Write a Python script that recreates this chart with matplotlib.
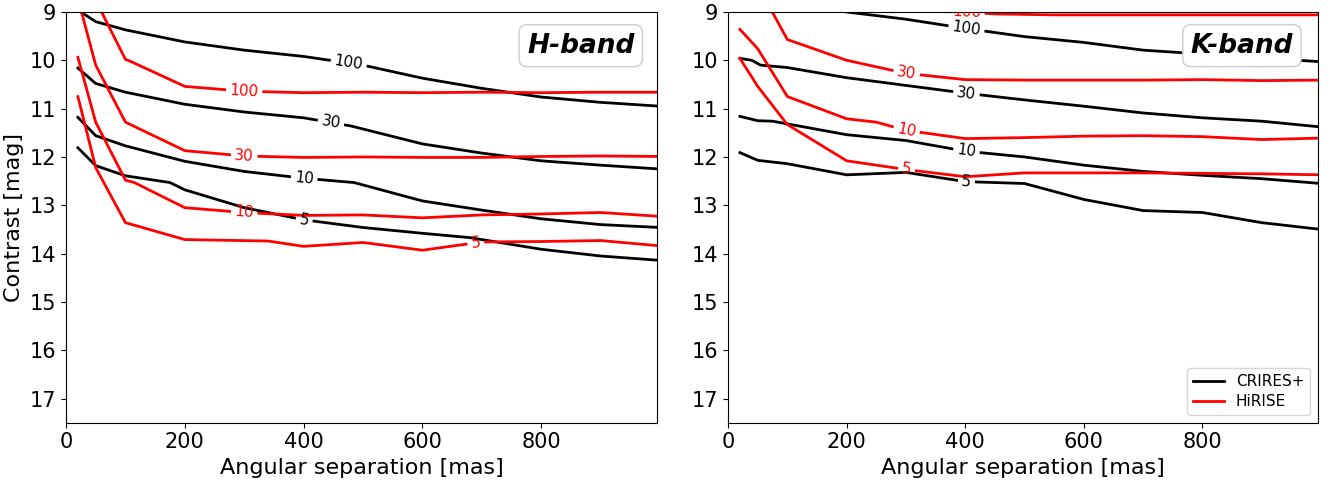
import numpy as np
import matplotlib.pyplot as plt

# contrast curves: {level: (separation [mas], contrast [mag])}
h_crires = {
    100: ([20, 50, 100, 200, 300, 400, 500, 600, 700, 800, 900, 1000],
          [8.96, 9.20, 9.37, 9.62, 9.79, 9.92, 10.10, 10.37, 10.58, 10.76, 10.87, 10.95]),
    30: ([20, 50, 100, 200, 300, 400, 480, 600, 700, 800, 900, 1000],
         [10.16, 10.48, 10.66, 10.91, 11.07, 11.19, 11.36, 11.73, 11.92, 12.08, 12.17, 12.25]),
    10: ([20, 50, 100, 200, 300, 400, 485, 600, 700, 800, 900, 1000],
         [11.18, 11.56, 11.77, 12.09, 12.30, 12.44, 12.53, 12.91, 13.10, 13.28, 13.40, 13.46]),
    5: ([20, 50, 100, 175, 200, 300, 400, 500, 600, 680, 800, 900, 1000],
        [11.81, 12.18, 12.39, 12.53, 12.68, 13.05, 13.30, 13.46, 13.58, 13.67, 13.91, 14.05, 14.14]),
}
h_hirise = {
    100: ([50, 100, 110, 200, 300, 400, 500, 600, 700, 800, 900, 1000],
          [8.76, 9.98, 10.03, 10.54, 10.64, 10.67, 10.66, 10.67, 10.66, 10.67, 10.66, 10.66]),
    30: ([20, 50, 100, 200, 300, 400, 500, 600, 700, 800, 900, 1000],
         [8.72, 10.10, 11.28, 11.87, 11.98, 12.01, 12.00, 12.01, 12.01, 11.99, 11.98, 11.99]),
    10: ([20, 50, 100, 115, 200, 300, 400, 500, 600, 700, 800, 900, 1000],
         [9.94, 11.28, 12.48, 12.53, 13.05, 13.15, 13.21, 13.20, 13.26, 13.20, 13.18, 13.15, 13.23]),
    5: ([20, 50, 100, 200, 340, 400, 500, 600, 700, 800, 900, 1000],
        [10.75, 12.22, 13.36, 13.71, 13.74, 13.85, 13.77, 13.93, 13.76, 13.75, 13.73, 13.84]),
}
k_crires = {
    100: ([100, 200, 300, 400, 500, 600, 700, 800, 900, 1000],
          [8.80, 9.00, 9.15, 9.34, 9.51, 9.63, 9.79, 9.87, 9.95, 10.03]),
    30: ([20, 40, 55, 100, 200, 300, 400, 500, 600, 700, 800, 900, 1000],
         [9.96, 10.00, 10.10, 10.15, 10.36, 10.52, 10.68, 10.82, 10.95, 11.09, 11.19, 11.26, 11.38]),
    10: ([20, 50, 75, 200, 300, 400, 500, 600, 700, 800, 900, 1000],
         [11.16, 11.25, 11.26, 11.54, 11.66, 11.88, 12.00, 12.17, 12.30, 12.38, 12.45, 12.55]),
    5: ([20, 50, 100, 200, 300, 400, 500, 600, 700, 800, 900, 1000],
        [11.91, 12.07, 12.14, 12.37, 12.32, 12.51, 12.55, 12.88, 13.11, 13.15, 13.36, 13.50]),
}
k_hirise = {
    100: ([300, 350, 400, 450, 550, 1000],
          [8.92, 8.99, 9.00, 9.04, 9.06, 9.06]),
    30: ([50, 75, 100, 200, 300, 400, 500, 600, 700, 800, 900, 1000],
         [8.45, 9.01, 9.57, 10.00, 10.27, 10.40, 10.41, 10.41, 10.41, 10.40, 10.42, 10.41]),
    10: ([20, 50, 100, 200, 250, 300, 400, 500, 600, 700, 800, 900, 1000],
         [9.36, 9.76, 10.75, 11.21, 11.28, 11.45, 11.62, 11.60, 11.57, 11.56, 11.58, 11.64, 11.61]),
    5: ([20, 50, 100, 200, 300, 400, 500, 600, 700, 800, 900, 1000],
        [9.96, 10.54, 11.33, 12.08, 12.26, 12.41, 12.33, 12.33, 12.33, 12.34, 12.35, 12.37]),
}

# where the inline level labels sit (separation in mas)
h_crires_lab = {100: 476, 30: 446, 10: 401, 5: 401}
h_hirise_lab = {100: 300, 30: 300, 10: 300, 5: 690}
k_crires_lab = {100: 402, 30: 402, 10: 402, 5: 402}
k_hirise_lab = {100: 402, 30: 301, 10: 301, 5: 301}

DPI = 100
LAB_FS = 11


def labelled_line(ax, x, y, level, xlab, color, label=None):
    # draw a curve with a contour-style inline label (line broken under the text)
    x = np.asarray(x, float)
    y = np.asarray(y, float)
    pts = ax.transData.transform(np.column_stack([x, y]))
    s = np.concatenate([[0], np.cumsum(np.hypot(*np.diff(pts, axis=0).T))])
    ylab = np.interp(xlab, x, y)
    p0 = ax.transData.transform((xlab, ylab))
    s0 = np.interp(p0[0], pts[:, 0], s)
    half = len(str(level)) * 0.636 * LAB_FS * DPI / 72 / 2 + 5
    sa, sb = s0 - half, s0 + half
    pa = np.array([np.interp(sa, s, pts[:, 0]), np.interp(sa, s, pts[:, 1])])
    pb = np.array([np.interp(sb, s, pts[:, 0]), np.interp(sb, s, pts[:, 1])])
    inv = ax.transData.inverted()
    left = inv.transform(np.vstack([pts[s < sa], pa]))
    right = inv.transform(np.vstack([pb, pts[s > sb]]))
    ax.plot(left[:, 0], left[:, 1], color=color, lw=2, label=label)
    ax.plot(right[:, 0], right[:, 1], color=color, lw=2)
    ang = np.degrees(np.arctan2(pb[1] - pa[1], pb[0] - pa[0]))
    ax.text(xlab, ylab, str(level), rotation=ang, rotation_mode='anchor',
            ha='center', va='center', color=color, fontsize=LAB_FS, clip_on=True)


fig = plt.figure(figsize=(13.31, 4.83), dpi=DPI)
ax_h = fig.add_axes([0.0496, 0.1248, 0.4440, 0.8504])
ax_k = fig.add_axes([0.5470, 0.1248, 0.4433, 0.8504])

panels = [
    (ax_h, h_crires, h_hirise, h_crires_lab, h_hirise_lab, 'H-band'),
    (ax_k, k_crires, k_hirise, k_crires_lab, k_hirise_lab, 'K-band'),
]

for ax, crires, hirise, clab, hlab, band in panels:
    ax.set_xlim(0, 995)
    ax.set_ylim(17.5, 9)
    ax.set_yticks(range(9, 18))
    ax.set_xticks([0, 200, 400, 600, 800])
    ax.tick_params(labelsize=15)
    ax.set_xlabel('Angular separation [mas]', fontsize=16)

    for i, (lvl, (x, y)) in enumerate(crires.items()):
        labelled_line(ax, x, y, lvl, clab[lvl], 'black', 'CRIRES+' if i == 0 else None)
    for i, (lvl, (x, y)) in enumerate(hirise.items()):
        labelled_line(ax, x, y, lvl, hlab[lvl], 'red', 'HiRISE' if i == 0 else None)

    ax.text(0.871, 0.918, band, transform=ax.transAxes, ha='center', va='center',
            fontsize=19, fontweight='bold', fontstyle='italic',
            bbox=dict(boxstyle='round,pad=0.3', facecolor='white', edgecolor='0.8'))

ax_h.set_ylabel('Contrast [mag]', fontsize=16)
ax_k.legend(loc='lower right', fontsize=11, labelspacing=0.3)

fig.savefig('out.png', dpi=DPI)
